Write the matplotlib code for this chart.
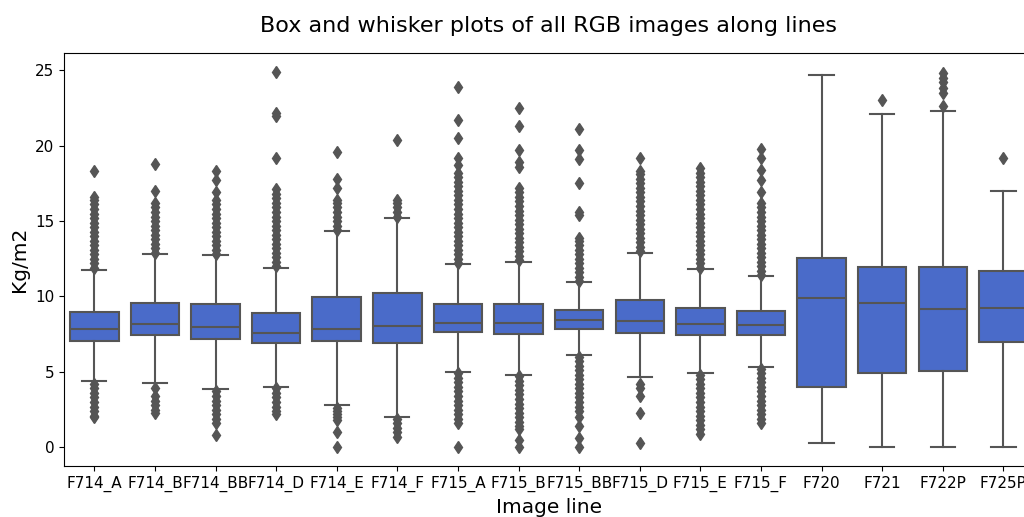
import matplotlib
matplotlib.use('Agg')
import matplotlib.pyplot as plt

# box statistics
labels = ['F714_A', 'F714_B', 'F714_BB', 'F714_D', 'F714_E', 'F714_F',
          'F715_A', 'F715_B', 'F715_BB', 'F715_D', 'F715_E', 'F715_F',
          'F720', 'F721', 'F722P', 'F725P']
q1 = [7.05, 7.43, 7.21, 6.94, 7.05, 6.90, 7.65, 7.54, 7.87, 7.60, 7.47, 7.47, 4.00, 4.95, 5.06, 7.01]
med = [7.82, 8.16, 7.98, 7.56, 7.82, 8.05, 8.27, 8.22, 8.42, 8.38, 8.16, 8.09, 9.93, 9.57, 9.17, 9.24]
q3 = [9.00, 9.59, 9.48, 8.93, 9.99, 10.26, 9.48, 9.48, 9.10, 9.77, 9.24, 9.04, 12.53, 11.98, 11.98, 11.72]
whislo = [4.40, 4.29, 3.85, 4.00, 2.79, 2.01, 5.02, 4.80, 6.10, 4.66, 4.91, 5.30, 0.27, 0.04, 0.04, 0.04]
whishi = [11.74, 12.80, 12.73, 11.89, 14.32, 15.23, 12.14, 12.31, 10.96, 12.91, 11.85, 11.36, 24.67, 22.08, 22.28, 17.00]

# outliers (dense runs typed out by eye)
fliers = [
    [11.9, 12.2, 12.5, 12.8, 13.1, 13.4, 13.7, 14.0, 14.3, 14.6, 14.9, 15.2, 15.5, 15.8, 16.1, 16.4, 16.6, 18.3,
     4.2, 3.9, 3.6, 3.3, 3.0, 2.7, 2.4, 2.1, 2.0],
    [12.9, 13.2, 13.5, 13.8, 14.1, 14.4, 14.7, 15.0, 15.3, 15.6, 15.9, 16.2, 17.0, 18.8,
     3.9, 3.4, 3.1, 2.8, 2.5, 2.3],
    [12.8, 13.1, 13.4, 13.7, 14.0, 14.3, 14.6, 14.9, 15.2, 15.5, 15.8, 16.1, 16.4, 16.9, 17.7, 18.3,
     3.7, 3.4, 3.1, 2.8, 2.5, 2.2, 1.9, 1.6, 0.8],
    [12.0, 12.3, 12.6, 12.9, 13.2, 13.5, 13.8, 14.1, 14.4, 14.7, 15.0, 15.3, 15.6, 15.9, 16.2, 16.5, 16.8, 17.1,
     19.2, 22.0, 22.2, 24.9,
     3.9, 3.6, 3.3, 3.0, 2.7, 2.4, 2.2],
    [14.4, 14.7, 15.0, 15.3, 15.6, 15.9, 16.2, 16.4, 17.2, 17.8, 19.6,
     2.6, 2.4, 2.2, 2.0, 1.8, 1.0, 0.0],
    [15.3, 15.6, 15.9, 16.2, 16.4, 20.4,
     1.9, 1.6, 1.3, 1.0, 0.7],
    [12.2, 12.5, 12.8, 13.1, 13.4, 13.7, 14.0, 14.3, 14.6, 14.9, 15.2, 15.5, 15.8, 16.1, 16.4, 16.7, 17.0, 17.3,
     17.6, 17.9, 18.2, 18.7, 19.2, 20.5, 21.7, 23.9,
     4.9, 4.6, 4.3, 4.0, 3.7, 3.4, 3.1, 2.8, 2.5, 2.2, 1.9, 1.6, 0.0],
    [12.4, 12.7, 13.0, 13.3, 13.6, 13.9, 14.2, 14.5, 14.8, 15.1, 15.4, 15.7, 16.0, 16.3, 16.6, 16.9, 17.2,
     18.6, 18.9, 19.7, 21.3, 22.5,
     4.7, 4.4, 4.1, 3.8, 3.5, 3.2, 2.9, 2.6, 2.3, 2.0, 1.7, 1.4, 1.2, 0.5, 0.0],
    [11.0, 11.3, 11.6, 11.9, 12.2, 12.5, 12.8, 13.1, 13.4, 13.7, 13.9, 15.4, 15.6, 17.5, 19.1, 19.7, 21.1,
     6.0, 5.7, 5.4, 5.1, 4.8, 4.5, 4.2, 3.9, 3.6, 3.3, 3.0, 2.7, 2.4, 2.0, 1.4, 0.6, 0.0],
    [13.0, 13.3, 13.6, 13.9, 14.2, 14.5, 14.8, 15.1, 15.4, 15.7, 16.0, 16.3, 16.6, 16.9, 17.2, 17.5, 17.8, 18.1,
     18.3, 19.2,
     4.2, 3.9, 3.4, 2.3, 0.3],
    [11.9, 12.2, 12.5, 12.8, 13.1, 13.4, 13.7, 14.0, 14.3, 14.6, 14.9, 15.2, 15.5, 15.8, 16.1, 16.4, 16.7, 17.0,
     17.3, 17.6, 17.9, 18.2, 18.5,
     4.8, 4.5, 4.2, 3.9, 3.6, 3.3, 3.0, 2.7, 2.4, 2.1, 1.8, 1.5, 1.2, 0.9],
    [11.4, 11.7, 12.0, 12.3, 12.6, 12.9, 13.2, 13.5, 13.8, 14.1, 14.4, 14.7, 15.0, 15.3, 15.6, 15.9, 16.2,
     16.9, 17.7, 18.4, 19.2, 19.8,
     5.2, 4.9, 4.6, 4.3, 4.0, 3.7, 3.4, 3.1, 2.8, 2.5, 2.2, 1.9, 1.6],
    [],
    [23.0],
    [22.6, 23.5, 23.85, 24.2, 24.5, 24.85],
    [19.2],
]

BOX_COLOR = '#4a6bc9'
LINE_COLOR = '#555555'

stats = []
for i in range(len(labels)):
    stats.append({'label': labels[i], 'med': med[i], 'q1': q1[i], 'q3': q3[i],
                  'whislo': whislo[i], 'whishi': whishi[i], 'fliers': fliers[i]})

fig = plt.figure(figsize=(10.24, 5.17), dpi=100)
# axes runs past the right edge, like the cropped original
ax = fig.add_axes([0.0625, 0.0986, 0.947, 0.799])

ax.bxp(stats, positions=range(len(labels)), widths=0.8, capwidths=0.4,
       patch_artist=True,
       boxprops=dict(facecolor=BOX_COLOR, edgecolor=LINE_COLOR, linewidth=1.5),
       medianprops=dict(color=LINE_COLOR, linewidth=1.5),
       whiskerprops=dict(color=LINE_COLOR, linewidth=1.5),
       capprops=dict(color=LINE_COLOR, linewidth=1.5),
       flierprops=dict(marker='d', markersize=6, markerfacecolor=LINE_COLOR,
                       markeredgecolor=LINE_COLOR, linestyle='none'))

ax.set_xlim(-0.5, len(labels) - 0.5)
ax.set_ylim(-1.245, 26.15)
ax.set_yticks([0, 5, 10, 15, 20, 25])
ax.tick_params(labelsize=11)
ax.set_xlabel('Image line', fontsize=14.5)
ax.set_ylabel('Kg/m2', fontsize=14.5)
ax.set_title('Box and whisker plots of all RGB images along lines', fontsize=16, pad=15)

fig.savefig('out.png', dpi=100)
